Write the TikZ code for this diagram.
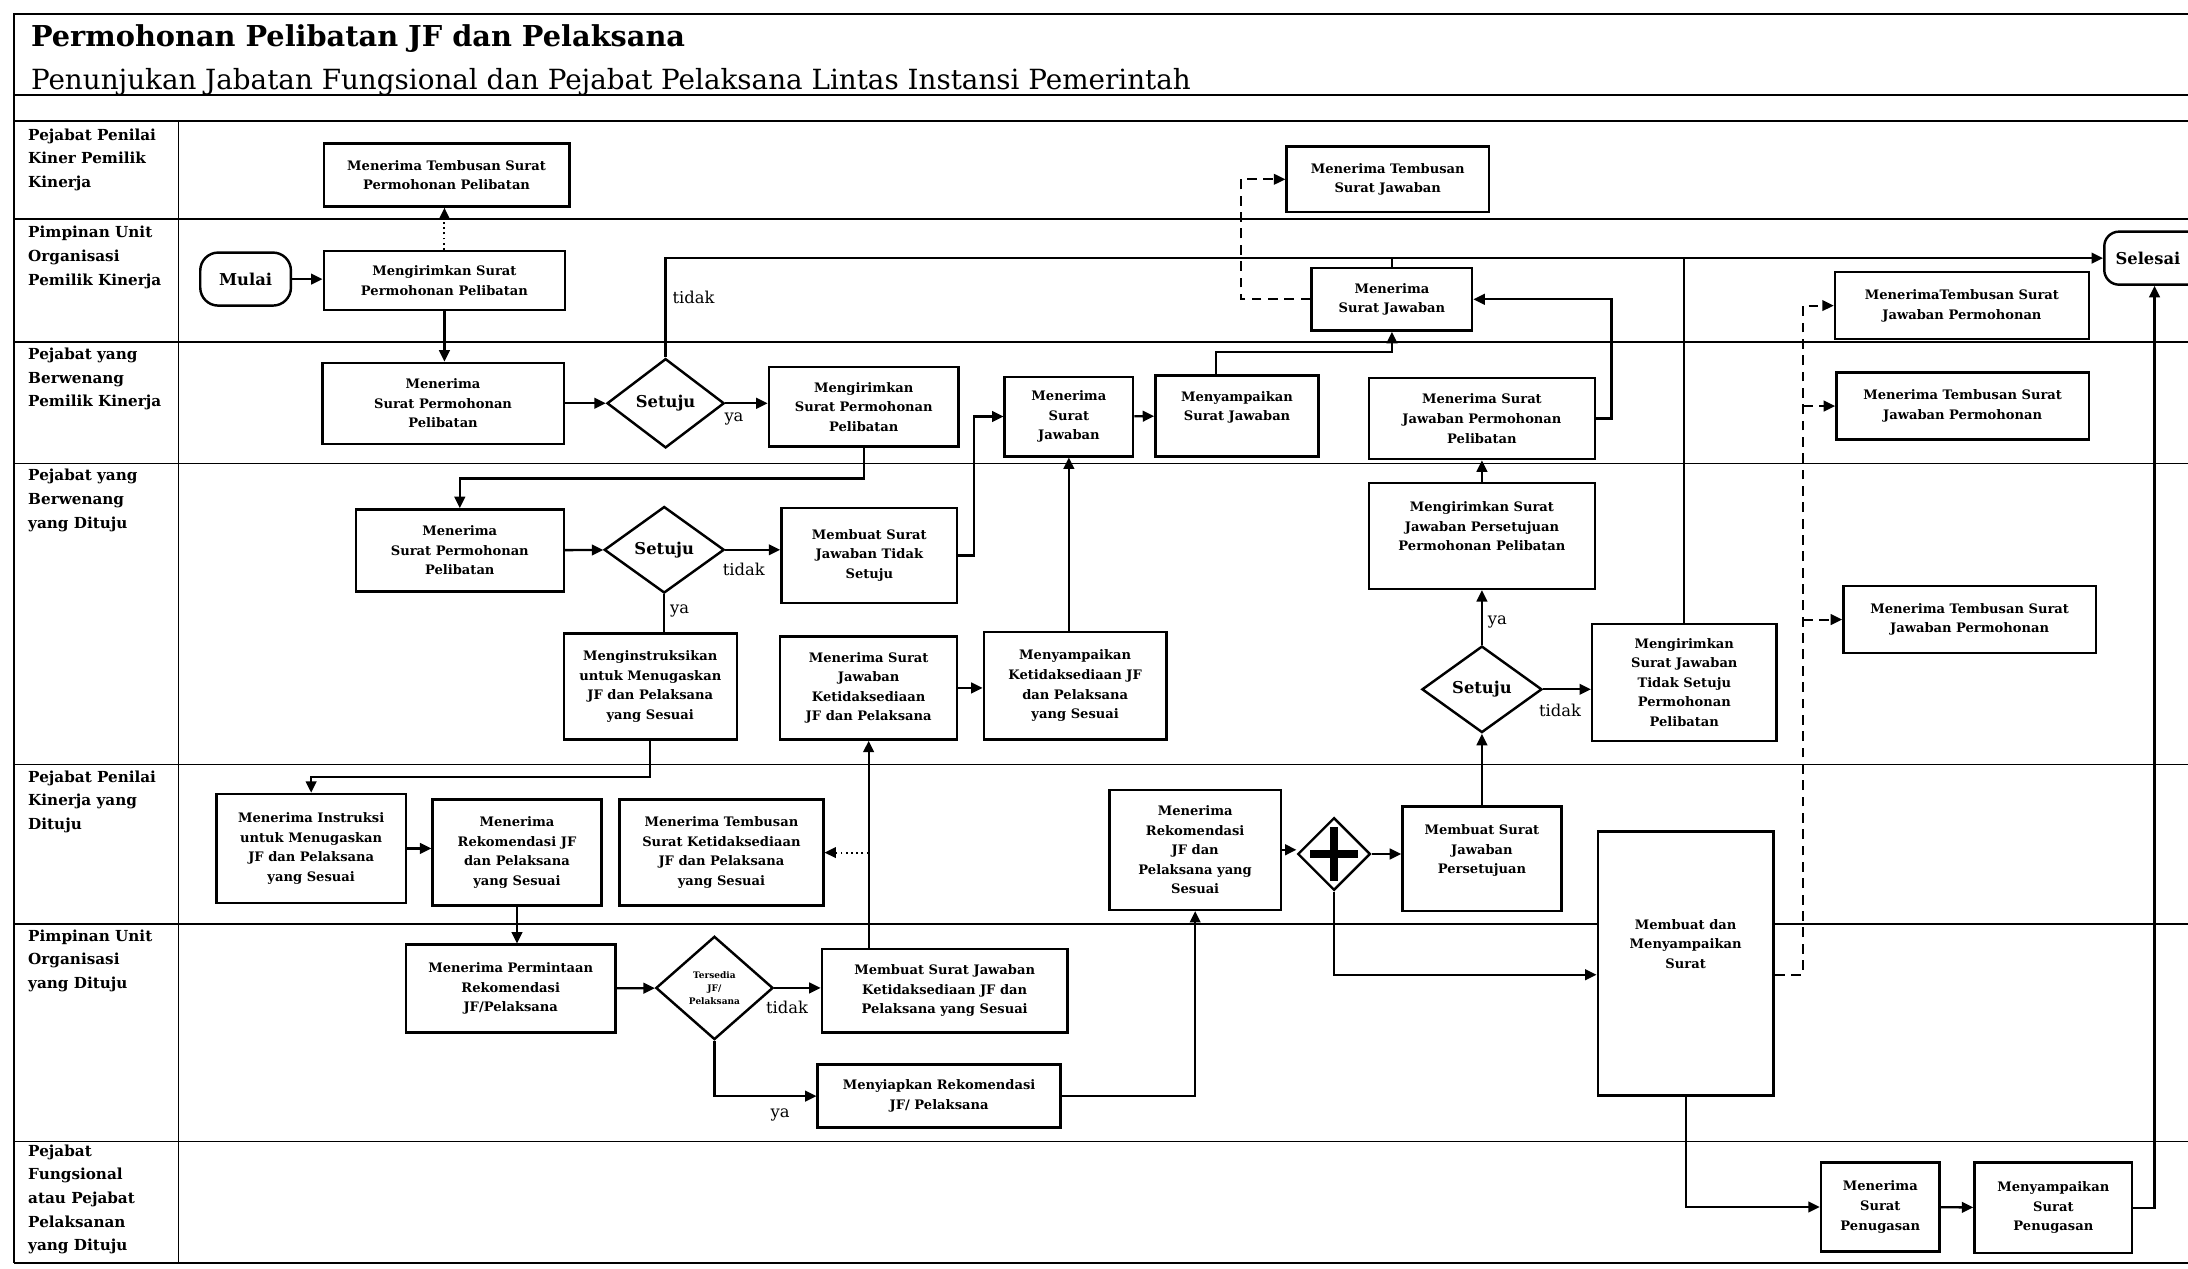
\documentclass[tikz,border=0pt]{standalone}
\usepackage{fontspec}
\setmainfont{DejaVu Serif}
\usetikzlibrary{arrows.meta,shapes.geometric,calc}

% rectangle given by its corners: [style]{name}{x1}{y1}{x2}{y2}{text}
\newcommand\procbox[7][]{%
  \node[box,#1,minimum width={(#5-#3)*0.3mm},minimum height={(#6-#4)*0.3mm}]
    (#2) at ({(#3+#5)/2},{(#4+#6)/2}) {#7};}
% decision given by centre and size: [style]{name}{cx}{cy}{w}{h}{text}
\newcommand\decbox[7][]{%
  \node[dec,#1,minimum width={#5*0.3mm},minimum height={#6*0.3mm}]
    (#2) at (#3,#4) {#7};}

\begin{document}
\begin{tikzpicture}[x=0.3mm,y=-0.3mm,
  every node/.style={inner sep=0pt},
  box/.style={draw,fill=white,line width=1.5pt,align=center,
    font=\fontsize{8}{12}\selectfont\bfseries},
  dec/.style={diamond,draw,fill=white,line width=1.5pt,align=center,
    font=\fontsize{10}{12}\selectfont\bfseries},
  term/.style={draw,fill=white,line width=1.5pt,rounded corners=9pt,
    font=\fontsize{10}{12}\selectfont\bfseries},
  tip/.tip={Triangle[length=7pt,width=6.5pt]},
  flow/.style={line width=1.4pt,-tip},
  link/.style={line width=1.4pt},
  dashflow/.style={line width=1.2pt,dash pattern=on 6pt off 4pt,-tip},
  dotflow/.style={line width=1.2pt,dotted,-tip},
  frame/.style={line width=1.1pt},
  lane/.style={line width=0.9pt},
  lbl/.style={font=\fontsize{10}{12}\selectfont},
  lanelbl/.style={anchor=north west,align=left,
    font=\fontsize{9.3}{14.5}\selectfont\bfseries}]

\useasboundingbox (0,0) rectangle (1568,909);

% ---------- frame and swimlanes ----------
\draw[frame] (10,905) -- (10,10) -- (1568,10);
\draw[frame] (10,68) -- (1568,68);
\draw[frame] (10,87) -- (1568,87);
\foreach \y in {157,245,332,548,662,818}
  \draw[lane] (10,\y) -- (1568,\y);
\draw[frame] (10,905) -- (1568,905);
\draw[lane] (128,87) -- (128,905);

\node[anchor=base west,font=\fontsize{17.6}{19}\selectfont\bfseries] (title) at (22,33)
  {Permohonan Pelibatan JF dan Pelaksana};
\node[anchor=base west,font=\fontsize{17}{19}\selectfont] (subtitle) at (22,64)
  {Penunjukan Jabatan Fungsional dan Pejabat Pelaksana Lintas Instansi Pemerintah};

\node[lanelbl] (l1) at (20,92) {Pejabat Penilai\\Kiner Pemilik\\Kinerja};
\node[lanelbl] (l2) at (20,162) {Pimpinan Unit\\Organisasi\\Pemilik Kinerja};
\node[lanelbl] (l3) at (20,249) {Pejabat yang\\Berwenang\\Pemilik Kinerja};
\node[lanelbl] (l4) at (20,336) {Pejabat yang\\Berwenang\\yang Dituju};
\node[lanelbl] (l5) at (20,552) {Pejabat Penilai\\Kinerja yang\\Dituju};
\node[lanelbl] (l6) at (20,666) {Pimpinan Unit\\Organisasi\\yang Dituju};
\node[lanelbl] (l7) at (20,820) {Pejabat\\Fungsional\\atau Pejabat\\Pelaksanan\\yang Dituju};

% ---------- activities ----------
\procbox{A1}{232}{103}{408}{148}{Menerima Tembusan Surat\\Permohonan Pelibatan}
\procbox{A2}{922}{105}{1067}{152}{Menerima Tembusan\\Surat Jawaban}

\node[term,minimum width={65*0.3mm},minimum height={38*0.3mm},rounded corners=11pt]
  (mulai) at (176,200) {Mulai};
\procbox{B1}{232}{180}{405}{222}{Mengirimkan Surat\\Permohonan Pelibatan}
\procbox{B2}{940}{192}{1055}{237}{Menerima\\Surat Jawaban}
\node[term,minimum width={72*0.3mm},minimum height={38*0.3mm}]
  (selesai) at (1544,185) {Selesai\hspace*{8pt}};

\procbox{C1}{231}{260}{404}{318}{Menerima\\Surat Permohonan\\Pelibatan}
\decbox{D1}{477}{289}{84}{64}{Setuju}
\procbox{C2}{551}{263}{687}{320}{Mengirimkan\\Surat Permohonan\\Pelibatan}
\procbox{C3}{720}{270}{812}{327}{Menerima\\Surat\\Jawaban}
\procbox{C4}{828}{269}{945}{327}{Menyampaikan\\Surat Jawaban\\\mbox{}}
\procbox{C5}{981}{271}{1143}{329}{Menerima Surat\\Jawaban Permohonan\\Pelibatan}
\procbox{C6}{1315}{195}{1497}{243}{MenerimaTembusan Surat\\Jawaban Permohonan}
\procbox{C7}{1316}{267}{1497}{315}{Menerima Tembusan Surat\\Jawaban Permohonan}

\procbox{E1}{255}{365}{404}{424}{Menerima\\Surat Permohonan\\Pelibatan}
\decbox{D2}{476}{394}{86}{62}{Setuju}
\procbox{E2}{560}{364}{686}{432}{Membuat Surat\\Jawaban Tidak\\Setuju}
\procbox{E3}{404}{454}{528}{530}{Menginstruksikan\\untuk Menugaskan\\JF dan Pelaksana\\yang Sesuai}
\procbox{E4}{559}{456}{686}{530}{Menerima Surat\\Jawaban\\Ketidaksediaan\\JF dan Pelaksana}
\procbox{E5}{705}{453}{836}{530}{Menyampaikan\\Ketidaksediaan JF\\dan Pelaksana\\yang Sesuai}
\procbox{E6}{981}{346}{1143}{422}{Mengirimkan Surat\\Jawaban Persetujuan\\Permohonan Pelibatan\\\mbox{}}
\decbox{D3}{1062}{494}{86}{62}{Setuju}
\procbox{E7}{1141}{447}{1273}{531}{Mengirimkan\\Surat Jawaban\\Tidak Setuju\\Permohonan\\Pelibatan}
\procbox{E8}{1321}{420}{1502}{468}{Menerima Tembusan Surat\\Jawaban Permohonan}

\procbox{F1}{155}{569}{291}{647}{Menerima Instruksi\\untuk Menugaskan\\JF dan Pelaksana\\yang Sesuai}
\procbox{F2}{310}{573}{431}{649}{Menerima\\Rekomendasi JF\\dan Pelaksana\\yang Sesuai}
\procbox{F3}{444}{573}{590}{649}{Menerima Tembusan\\Surat Ketidaksediaan\\JF dan Pelaksana\\yang Sesuai}
\procbox{F4}{795}{566}{918}{652}{Menerima\\Rekomendasi\\JF dan\\Pelaksana yang\\Sesuai}
\decbox{G}{956}{612}{52}{52}{}
\draw[line width=4.5pt] ($(G)+(0,-19)$) -- ($(G)+(0,19)$)
                        ($(G)+(-17,0)$) -- ($(G)+(17,0)$);
\procbox{F5}{1005}{578}{1119}{653}{Membuat Surat\\Jawaban\\Persetujuan\\\mbox{}}
\procbox{F6}{1145}{596}{1271}{785}{Membuat dan\\Menyampaikan\\Surat\\\mbox{}\\\mbox{}}

\procbox{H1}{291}{677}{441}{740}{Menerima Permintaan\\Rekomendasi\\JF/Pelaksana}
\decbox[font=\fontsize{5.5}{8}\selectfont\bfseries]{D4}{512}{708}{84}{74}{Tersedia\\JF/\\Pelaksana}
\procbox{H2}{589}{680}{765}{740}{Membuat Surat Jawaban\\Ketidaksediaan JF dan\\Pelaksana yang Sesuai}
\procbox{H3}{586}{763}{760}{808}{Menyiapkan Rekomendasi\\JF/ Pelaksana}

\procbox{I1}{1305}{833}{1390}{897}{Menerima\\Surat\\Penugasan}
\procbox{I2}{1415}{833}{1528}{898}{Menyampaikan\\Surat\\Penugasan}

% ---------- connectors ----------
\draw[flow] (mulai) -- (mulai -| B1.west);
\draw[dotflow] (B1.north) -- (B1.north |- A1.south);
\draw[flow] (B1.south) -- (B1.south |- C1.north);
\draw[flow] (C1) -- (D1);
\draw[flow] (D1.east) -- (D1.east -| C2.west);
\draw[flow] (D1.north) |- (selesai.west);
\draw[link] (B2.north) -- (B2.north |- selesai.west);
\draw[link] (E7.north) -- (E7.north |- selesai.west);
\draw[flow] (C2.south) -- ++(0,22) -| (E1.north);
\draw[flow] (E1) -- (D2);
\draw[flow] (D2.east) -- (D2.east -| E2.west);
\draw[link] (D2.south) -- (D2.south |- E3.north);
\draw[flow] (E2.east) -- ++(11,0) |- (C3.west);
\draw[flow] (C3) -- (C4);
\draw[flow] ($(C4.north)+(-15,0)$) -- ++(0,-16) -| (B2.south);
\draw[flow] (C5.east) -- ++(11,0) |- (B2.east);
\draw[dashflow] (B2.west) -- ++(-50,0) |- (A2.west);
\draw[flow] (E6.north) -- (E6.north |- C5.south);
\draw[flow] (D3.north) -- (D3.north |- E6.south);
\draw[flow] (F5.north) -- (F5.north |- D3.south);
\draw[flow] (D3.east) -- (D3.east -| E7.west);
\draw[flow] (E3.south) -- ++(0,26) -| (F1.north);
\draw[flow] (F1.east) -- (F1.east -| F2.west);
\draw[flow] (F2.south) -- (F2.south |- H1.north);
\draw[flow] (H1) -- (D4);
\draw[flow] (D4.east) -- (D4.east -| H2.west);
\draw[flow] (D4.south) |- (H3.west);
\draw[flow] (H2.north -| E4.south) -- (E4.south);
\draw[dotflow] (F3.east -| E4.south) -- (F3.east);
\draw[flow] (E4.east) -- (E4.east -| E5.west);
\draw[flow] (E5.north -| C3.south) -- (C3.south);
\draw[flow] (H3.east) -| (F4.south);
\draw[flow] (F4.east) -- (F4.east -| G.west);
\draw[flow] (G.east) -- (G.east -| F5.west);
\draw[flow] (G.south) |- ($(F6.west)+(0,8)$);
\coordinate (dv) at ($(F6.east)+(20,8)$);
\draw[dashflow] ($(F6.east)+(0,8)$) -- (dv) |- (C6.west);
\draw[dashflow] (dv |- C7.west) -- (C7.west);
\draw[dashflow] (dv |- E8.west) -- (E8.west);
\draw[flow] (F6.south) |- (I1.west);
\draw[flow] (I1) -- (I2);
\draw[flow] (I2.east) -| (selesai.south);

% ---------- branch labels ----------
\node[lbl] (t1) at (497,213) {tidak};
\node[lbl] (y1) at (526,300) {ya};
\node[lbl] (t2) at (533,408) {tidak};
\node[lbl] (y2) at (487,438) {ya};
\node[lbl] (y3) at (1073,446) {ya};
\node[lbl] (t3) at (1118,509) {tidak};
\node[lbl] (t4) at (564,722) {tidak};
\node[lbl] (y4) at (559,799) {ya};
\end{tikzpicture}
\end{document}
